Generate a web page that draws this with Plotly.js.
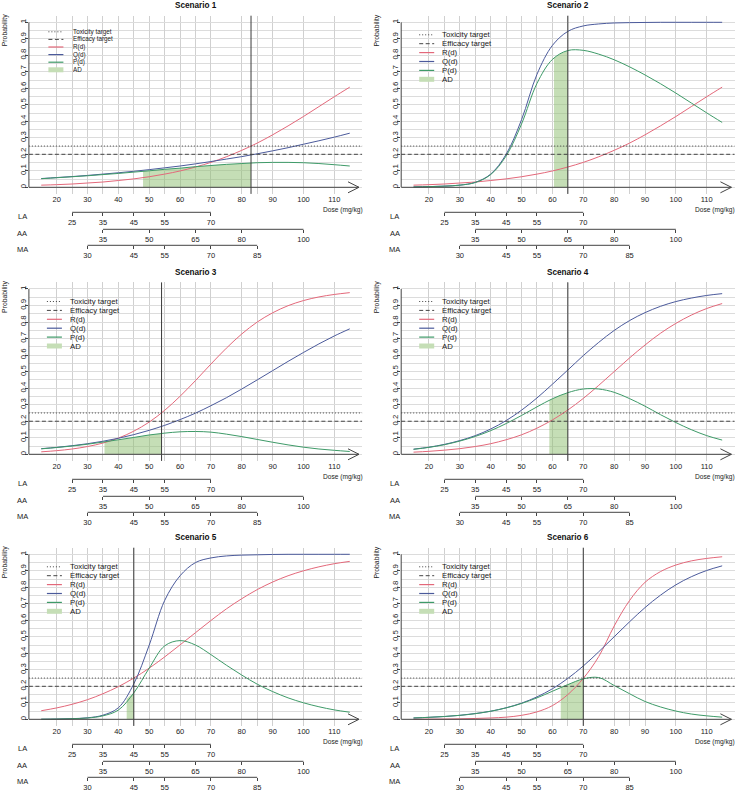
<!DOCTYPE html>
<html><head><meta charset="utf-8">
<script src="https://cdn.plot.ly/plotly-3.0.1.min.js"></script>
<style>html,body{margin:0;padding:0;background:#fff}#chart{width:737px;height:792px}</style>
</head><body><div id="chart"></div><script>
const FONT = '"Liberation Sans", Arial, Helvetica, sans-serif';

// ---- data ----
const doses = [15,20,25,30,35,40,45,50,55,60,65,70,75,80,85,90,95,100,105,110,115];
const doseTicks = [20,30,40,50,60,70,80,90,100,110];
const laTicks = [25,35,45,55,70];
const aaTicks = [35,50,65,80,100];
const maTicks = [30,45,55,70,85];
const subAxisNames = ['LA','AA','MA'];
const probTicks = [0,0.1,0.2,0.3,0.4,0.5,0.6,0.7,0.8,0.9,1];
const probTickText = ['0','0.1','0.2','0.3','0.4','0.5','0.6','0.7','0.8','0.9','1'];
const toxTarget = 0.25;
const effTarget = 0.2;
const titles = ['Scenario 1','Scenario 2','Scenario 3','Scenario 4','Scenario 5','Scenario 6'];
const legendLabels = ['Toxicity target','Efficacy target','R(d)','Q(d)','P(d)','AD'];

const R1 = [0.013,0.016,0.020,0.026,0.032,0.041,0.051,0.064,0.080,0.099,0.123,0.151,0.185,0.224,0.268,0.318,0.372,0.429,0.489,0.549,0.607];
const Q1 = [0.053,0.059,0.065,0.072,0.080,0.088,0.097,0.107,0.118,0.129,0.142,0.156,0.171,0.186,0.203,0.221,0.240,0.261,0.282,0.304,0.328];
const P1 = [0.052,0.058,0.064,0.070,0.077,0.084,0.092,0.100,0.109,0.116,0.125,0.132,0.139,0.144,0.149,0.151,0.151,0.149,0.144,0.137,0.129];
const R2 = [0.013,0.016,0.020,0.026,0.032,0.041,0.051,0.064,0.080,0.099,0.123,0.151,0.185,0.224,0.268,0.318,0.372,0.429,0.489,0.549,0.607];
const Q2 = [0.002,0.004,0.007,0.013,0.030,0.080,0.200,0.410,0.685,0.860,0.945,0.978,0.990,0.996,0.998,0.999,1.0,1.0,1.0,1.0,1.0];
const P2 = [0.002,0.004,0.007,0.013,0.029,0.077,0.190,0.384,0.630,0.775,0.829,0.830,0.807,0.773,0.730,0.681,0.628,0.571,0.511,0.451,0.393];
const R3 = [0.015,0.022,0.032,0.047,0.068,0.098,0.140,0.195,0.266,0.351,0.446,0.546,0.642,0.728,0.800,0.856,0.899,0.930,0.952,0.967,0.978];
const Q3 = [0.034,0.042,0.052,0.064,0.079,0.097,0.119,0.145,0.175,0.210,0.249,0.294,0.342,0.395,0.450,0.506,0.562,0.616,0.668,0.716,0.759];
const P3 = [0.033,0.041,0.050,0.061,0.074,0.088,0.102,0.117,0.128,0.136,0.138,0.134,0.122,0.107,0.090,0.073,0.057,0.043,0.032,0.024,0.017];
const R4 = [0.013,0.018,0.025,0.034,0.047,0.064,0.088,0.118,0.158,0.208,0.268,0.338,0.417,0.500,0.583,0.661,0.732,0.792,0.842,0.882,0.912];
const Q4 = [0.031,0.043,0.060,0.083,0.113,0.153,0.204,0.267,0.341,0.424,0.510,0.597,0.677,0.749,0.809,0.857,0.895,0.924,0.945,0.961,0.972];
const P4 = [0.030,0.042,0.058,0.080,0.108,0.143,0.186,0.235,0.287,0.336,0.373,0.395,0.395,0.375,0.337,0.291,0.240,0.192,0.149,0.113,0.086];
const R5 = [0.052,0.069,0.091,0.119,0.155,0.198,0.250,0.310,0.378,0.451,0.525,0.599,0.669,0.731,0.786,0.832,0.870,0.900,0.924,0.943,0.957];
const Q5 = [0.0005,0.0015,0.004,0.009,0.025,0.070,0.215,0.450,0.720,0.870,0.950,0.978,0.990,0.995,0.997,0.999,1.0,1.0,1.0,1.0,1.0];
const P5 = [0.0005,0.0014,0.0036,0.008,0.021,0.056,0.160,0.310,0.445,0.477,0.450,0.392,0.328,0.268,0.213,0.168,0.130,0.100,0.076,0.057,0.043];
const R6 = [0.0005,0.001,0.0015,0.003,0.005,0.008,0.013,0.024,0.045,0.083,0.150,0.248,0.380,0.565,0.720,0.830,0.895,0.935,0.960,0.975,0.985];
const Q6 = [0.008,0.012,0.017,0.024,0.035,0.049,0.070,0.098,0.136,0.185,0.248,0.323,0.409,0.500,0.591,0.677,0.752,0.815,0.864,0.902,0.930];
const P6 = [0.008,0.012,0.017,0.024,0.034,0.049,0.069,0.096,0.130,0.170,0.210,0.245,0.253,0.205,0.155,0.108,0.075,0.050,0.032,0.021,0.013];

// acceptable-dose (AD) regions: dose and P(d) along the upper edge
const ad1X = [48,50,55,60,65,70,75,80,83];
const ad1Y = [0.097,0.100,0.109,0.116,0.125,0.132,0.139,0.144,0.148];
const ad2X = [60.5,62.5,65];
const ad2Y = [0.783,0.808,0.829];
const ad3X = [35.5,40,45,50,54];
const ad3Y = [0.075,0.088,0.102,0.117,0.126];
const ad4X = [59,62,65];
const ad4Y = [0.327,0.352,0.373];
const ad5X = [42.7,43.8,45];
const ad5Y = [0.125,0.142,0.160];
const ad6X = [62.7,65,67.5,70];
const ad6Y = [0.197,0.212,0.230,0.247];

const scen = [
  {R:R1,Q:Q1,P:P1,adX:ad1X,adY:ad1Y},
  {R:R2,Q:Q2,P:P2,adX:ad2X,adY:ad2Y},
  {R:R3,Q:Q3,P:P3,adX:ad3X,adY:ad3Y},
  {R:R4,Q:Q4,P:P4,adX:ad4X,adY:ad4Y},
  {R:R5,Q:Q5,P:P5,adX:ad5X,adY:ad5Y},
  {R:R6,Q:Q6,P:P6,adX:ad6X,adY:ad6Y}
];
const subTicks = [laTicks, aaTicks, maTicks];

// ---- style / geometry ----
const W = 737, H = 792;
const COL_R = '#E3687A', COL_Q = '#4B5A9B', COL_P = '#3E9A68';
const AD_FILL = 'rgba(140,190,110,0.5)', AD_SOLID = '#c5deb6';
const AXC = '#444', TXT = '#222';
const xRange = [11,119], yRange = [-0.04,1.04], arrowTip = 118;
const colL = [28.9, 401.2], colR = [362.1, 734.5];
const rowP0 = [187.3, 454.3, 719.3], rowP1 = [22.3, 289.0, 554.3];
const subOff = [25, 42, 58];
const fx = px => px / W, fy = py => 1 - py / H;

const gridVals = Array.from(new Set([...doseTicks, ...laTicks, ...aaTicks, ...maTicks])).sort((a,b)=>a-b);
const gridText = gridVals.map(v => doseTicks.includes(v) ? String(v) : '');
const yMinor = [];
for (let i = 0; i <= 20; i++) yMinor.push(+(i*0.05).toFixed(2));

const traces = [];
const layout = {
  width: W, height: H, margin: {l:0,r:0,t:0,b:0},
  paper_bgcolor: '#fff', plot_bgcolor: '#fff', showlegend: false,
  font: {family: FONT, size: 7.5, color: TXT},
  shapes: [], annotations: []
};

scen.forEach((s, k) => {
  const row = Math.floor(k/2), col = k % 2;
  const n = k + 1;
  const xid = n === 1 ? 'x' : 'x' + n, yid = n === 1 ? 'y' : 'y' + n;
  const xkey = n === 1 ? 'xaxis' : 'xaxis' + n, ykey = n === 1 ? 'yaxis' : 'yaxis' + n;
  const p0 = rowP0[row], p1 = rowP1[row], u = p0 - p1;
  const L = colL[col], Rr = colR[col];
  const xdom = [fx(L), fx(Rr)];
  const ydom = [fy(p0 + 0.04*u), fy(p1 - 0.04*u)];

  layout[xkey] = {
    domain: xdom, range: xRange, anchor: yid, fixedrange: true,
    tickmode: 'array', tickvals: gridVals, ticktext: gridText, ticks: '',
    showline: false, zeroline: false, showgrid: true, gridcolor: '#d0d0d0', gridwidth: 1,
    tickfont: {size: 7.5, color: TXT}, ticklabelstandoff: 0
  };
  layout[ykey] = {
    domain: ydom, range: yRange, anchor: xid, fixedrange: true,
    tickmode: 'array', tickvals: probTicks, ticktext: probTickText,
    ticks: 'outside', ticklen: 3, tickcolor: AXC, tickwidth: 1, tickangle: -90,
    ticklabelstandoff: -4,
    showline: false, zeroline: false, showgrid: true, gridcolor: '#dcdcdc', gridwidth: 1,
    minor: {tickmode: 'array', tickvals: yMinor, showgrid: true, gridcolor: '#dcdcdc', gridwidth: 1, ticks: ''},
    tickfont: {size: 7.8, color: TXT}
  };

  // secondary dose axes (LA / AA / MA)
  subAxisNames.forEach((nm, j) => {
    const id = 7 + 3*k + j;
    const py = p0 + subOff[j];
    layout['xaxis' + id] = {
      overlaying: xid, anchor: 'free', position: fy(py), side: 'bottom',
      domain: xdom, range: xRange, fixedrange: true,
      tickmode: 'array', tickvals: subTicks[j], ticks: 'outside', ticklen: 3,
      tickcolor: AXC, tickwidth: 1, showgrid: false, zeroline: false, showline: false,
      tickfont: {size: 7.5, color: TXT}
    };
    traces.push({type:'scatter', x: [], y: [], xaxis: 'x' + id, yaxis: yid, showlegend: false, hoverinfo: 'skip'});
    const t = subTicks[j];
    layout.shapes.push({type:'line', xref: xid, yref: 'paper', x0: t[0], x1: t[t.length-1], y0: fy(py), y1: fy(py), line: {color: AXC, width: 1}, layer: 'above'});
    layout.annotations.push({xref:'paper', yref:'paper', x: fx(L - 6.5), y: fy(py + 3.8), text: nm, showarrow: false, xanchor: 'center', yanchor: 'middle', font: {size: 7.5, color: TXT}});
  });

  // AD fill
  traces.push({type:'scatter', mode:'lines', x: s.adX, y: s.adY, xaxis: xid, yaxis: yid,
    fill: 'tozeroy', fillcolor: AD_FILL, line: {width: 0, shape: 'spline'}, hoverinfo: 'skip', showlegend: false});
  // curves
  [[s.R, COL_R], [s.Q, COL_Q], [s.P, COL_P]].forEach(([vals, c]) => {
    traces.push({type:'scatter', mode:'lines', x: doses, y: vals, xaxis: xid, yaxis: yid,
      line: {color: c, width: 1, shape: 'spline', smoothing: 1}, hoverinfo: 'skip', showlegend: false});
  });

  // target lines
  layout.shapes.push({type:'line', xref: xid + ' domain', yref: yid, x0: 0, x1: 1, y0: toxTarget, y1: toxTarget, line: {color: '#444', width: 1, dash: '1px,2px'}, layer: 'above'});
  layout.shapes.push({type:'line', xref: xid + ' domain', yref: yid, x0: 0, x1: 1, y0: effTarget, y1: effTarget, line: {color: '#444', width: 1, dash: '4px,2.5px'}, layer: 'above'});
  // vertical line at upper AD bound
  const bnd = s.adX[s.adX.length - 1];
  layout.shapes.push({type:'line', xref: xid, yref: yid + ' domain', x0: bnd, x1: bnd, y0: 0, y1: 1, line: {color: '#3a3a3a', width: 1}, layer: 'above'});
  // y axis line (0..1)
  layout.shapes.push({type:'line', xref: xid + ' domain', yref: yid, x0: 0, x1: 0, y0: probTicks[0], y1: probTicks[probTicks.length-1], line: {color: AXC, width: 1}, layer: 'above'});
  // dose axis with arrow
  layout.shapes.push({type:'line', xref: xid, yref: yid, x0: xRange[0], x1: arrowTip, y0: 0, y1: 0, line: {color: AXC, width: 1}, layer: 'above'});
  layout.shapes.push({type:'path', xref: xid, yref: yid, xsizemode: 'pixel', ysizemode: 'pixel', xanchor: arrowTip, yanchor: 0,
    path: 'M -11,5.5 L 0,0 L -11,-5.5', line: {color: AXC, width: 1}, layer: 'above'});

  // labels
  layout.annotations.push({xref:'paper', yref:'paper', x: fx((L + Rr)/2), y: fy(p1 - 16.5), text: '<b>' + titles[k] + '</b>', showarrow: false, xanchor: 'center', yanchor: 'middle', font: {size: 8.2, color: '#111'}});
  layout.annotations.push({xref:'paper', yref:'paper', x: fx(L - 24), y: fy(p1 + 8), text: 'Probability', textangle: -90, showarrow: false, xanchor: 'center', yanchor: 'middle', font: {size: 6.8, color: TXT}});
  layout.annotations.push({xref:'paper', yref:'paper', x: fx(Rr - 19.5), y: fy(p0 + 22.8), text: 'Dose (mg/kg)', showarrow: false, xanchor: 'center', yanchor: 'middle', font: {size: 6.6, color: TXT}});

  // legend box
  const lg = k === 0 ? {y0: 9.5, step: 7.6, s0: 19.5, s1: 34.5, tx: 42.5, bx1: 98, fs: 6.3}
                     : {y0: 12.5, step: 8.9, s0: 18, s1: 33, tx: 39, bx1: 90, fs: 7.8};
  layout.shapes.push({type:'rect', xref:'paper', yref:'paper', x0: fx(L + 10), x1: fx(L + lg.bx1),
    y0: fy(p1 + lg.y0 - 5), y1: fy(p1 + lg.y0 + 5*lg.step + 5), fillcolor: '#fff', line: {width: 0}, layer: 'between'});
  const sampleStyles = [
    {color:'#444', width:1, dash:'1px,2px'},
    {color:'#444', width:1, dash:'4px,2.5px'},
    {color:COL_R, width:1.2},
    {color:COL_Q, width:1.2},
    {color:COL_P, width:1.2},
    {color:AD_SOLID, width:5}
  ];
  legendLabels.forEach((lab, i) => {
    const py = p1 + lg.y0 + i*lg.step;
    layout.shapes.push({type:'line', xref:'paper', yref:'paper', x0: fx(L + lg.s0), x1: fx(L + lg.s1), y0: fy(py), y1: fy(py), line: sampleStyles[i], layer: 'above'});
    layout.annotations.push({xref:'paper', yref:'paper', x: fx(L + lg.tx), y: fy(py), text: lab, showarrow: false, xanchor: 'left', yanchor: 'middle', font: {size: lg.fs, color: TXT}});
  });
});

Plotly.newPlot('chart', traces, layout, {displayModeBar: false, staticPlot: true});
</script></body></html>
